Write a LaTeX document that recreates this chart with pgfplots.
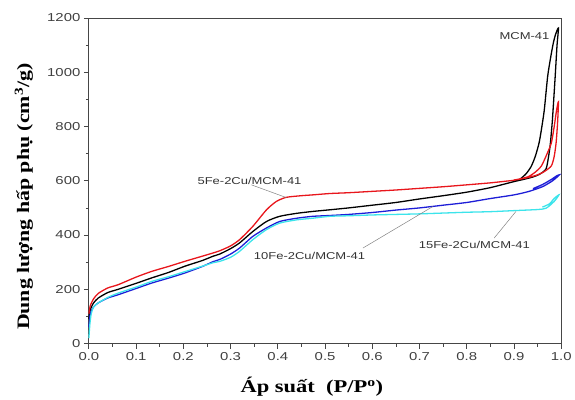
\documentclass[border=0pt]{standalone}
\usepackage{fontspec}
\setmainfont{Liberation Serif}
\setsansfont{Liberation Sans}
\newfontfamily\tickfont[FakeStretch=1.3]{Liberation Sans}
\newfontfamily\labelfont[FakeStretch=1.25]{Liberation Serif}
\usepackage{pgfplots}
\pgfplotsset{compat=1.18}

\definecolor{axisgray}{RGB}{70,70,70}
\definecolor{leadgray}{RGB}{130,130,130}
\definecolor{cred}{RGB}{232,22,28}
\definecolor{cblue}{RGB}{30,30,215}
\definecolor{ccyan}{RGB}{60,228,235}

\begin{document}
\begin{tikzpicture}
\begin{axis}[
    scale only axis, width=473pt, height=326pt,
    xmin=0, xmax=1, ymin=0, ymax=1200,
    xtick={0,0.1,0.2,0.3,0.4,0.5,0.6,0.7,0.8,0.9,1},
    xticklabels={0.0,0.1,0.2,0.3,0.4,0.5,0.6,0.7,0.8,0.9,1.0},
    ytick={0,200,400,600,800,1000,1200},
    yticklabels={0,200,400,600,800,1000,1200},
    minor x tick num=1, minor y tick num=1,
    tick align=outside, tick pos=left,
    major tick length=5pt, minor tick length=3pt,
    axis line style={draw=axisgray, line width=0.9pt},
    every tick/.style={axisgray, line width=0.8pt},
    tick label style={font=\tickfont\fontsize{11.5}{11.5}\selectfont, text=black!75},
    /pgf/number format/assume math mode=true,
    xlabel={\labelfont\bfseries\fontsize{18}{18}\selectfont Áp suất\ \ (P/P\textsuperscript{o})},
    ylabel={\labelfont\bfseries\fontsize{17.5}{17.5}\selectfont Dung lượng hấp phụ (cm\textsuperscript{3}/g)},
    xlabel style={at={(axis description cs:0.472,0)}, anchor=center, yshift=-43pt},
    ylabel style={at={(axis description cs:-0.1374,0.451)}, anchor=center},
    every axis plot/.append style={line width=1.3pt, no markers, smooth, tension=0.4},
    clip=false,
]
% MCM-41 (black): adsorption then desorption
\addplot[black] coordinates {
(0,90) (0.003,125) (0.01,150) (0.02,168) (0.04,188) (0.062,200) (0.1,222)
(0.133,242) (0.17,263) (0.203,285) (0.24,306) (0.263,322) (0.277,330) (0.3,350)
(0.319,371) (0.347,413) (0.376,450) (0.404,469) (0.44,480) (0.474,487) (0.51,493)
(0.55,500) (0.6,510) (0.65,520) (0.7,533) (0.75,545) (0.8,558) (0.848,574)
(0.88,588) (0.9,597) (0.92,605) (0.94,614) (0.955,625) (0.968,645) (0.974,700)
(0.977,740) (0.981,820) (0.984,900) (0.987,983) (0.991,1100) (0.994,1163)
(0.988,1140) (0.983,1107) (0.977,1050) (0.971,983) (0.964,861) (0.958,790)
(0.953,740) (0.945,690) (0.936,652) (0.925,625) (0.911,604) (0.9,598)
};
% 10Fe-2Cu/MCM-41 (blue)
\addplot[cblue] coordinates {
(0,60) (0.003,110) (0.01,135) (0.02,150) (0.04,168) (0.062,180) (0.1,203)
(0.133,223) (0.17,242) (0.203,260) (0.24,284) (0.263,302) (0.277,310) (0.3,330)
(0.319,352) (0.347,395) (0.376,426) (0.404,450) (0.44,462) (0.474,469) (0.51,472)
(0.55,476) (0.6,483) (0.65,492) (0.7,500) (0.75,510) (0.8,520) (0.848,534)
(0.9,548) (0.932,561) (0.96,578) (0.98,598) (0.99,612) (0.996,622)
(0.99,618) (0.98,606) (0.96,586) (0.94,571)
};
% 15Fe-2Cu/MCM-41 (cyan)
\addplot[ccyan] coordinates {
(0,20) (0.002,70) (0.005,110) (0.01,135) (0.02,150) (0.04,170) (0.062,186)
(0.1,208) (0.133,229) (0.17,247) (0.203,265) (0.24,285) (0.263,298) (0.277,303)
(0.3,318) (0.319,340) (0.347,383) (0.376,420) (0.404,444) (0.44,456) (0.474,462)
(0.51,469) (0.55,471) (0.6,474) (0.65,476) (0.7,478) (0.75,481) (0.8,484)
(0.848,486) (0.9,490) (0.95,494) (0.968,499) (0.985,524) (0.995,548)
(0.985,535) (0.975,515) (0.96,503)
};
% 5Fe-2Cu/MCM-41 (red)
\addplot[cred] coordinates {
(0,110) (0.003,140) (0.01,165) (0.02,185) (0.04,205) (0.062,217) (0.1,245)
(0.133,266) (0.17,285) (0.203,303) (0.24,322) (0.263,334) (0.277,342) (0.3,360)
(0.319,383) (0.347,432) (0.376,493) (0.397,524) (0.418,539) (0.45,545)
(0.474,548) (0.51,553) (0.55,556) (0.6,561) (0.65,566) (0.7,572) (0.75,578)
(0.8,585) (0.848,592) (0.88,598) (0.9,602) (0.93,612) (0.95,622) (0.965,635)
(0.979,655) (0.985,690) (0.989,740) (0.992,810) (0.994,891)
(0.99,860) (0.985,800) (0.979,740) (0.97,700) (0.958,655) (0.945,632)
(0.93,615) (0.91,606) (0.9,603)
};
% annotations
\draw[leadgray, line width=0.5pt] (axis cs:0.344,585) -- (axis cs:0.418,538);
\draw[leadgray, line width=0.5pt] (axis cs:0.580,352) -- (axis cs:0.728,505);
\draw[leadgray, line width=0.5pt] (axis cs:0.858,389) -- (axis cs:0.904,487);
\node[font=\tickfont\fontsize{10}{10}\selectfont, text=black!80] at (axis cs:0.922,1134) {MCM-41};
\node[font=\tickfont\fontsize{10}{10}\selectfont, text=black!80] at (axis cs:0.340,600) {5Fe-2Cu/MCM-41};
\node[font=\tickfont\fontsize{10}{10}\selectfont, text=black!80] at (axis cs:0.467,324) {10Fe-2Cu/MCM-41};
\node[font=\tickfont\fontsize{10}{10}\selectfont, text=black!80] at (axis cs:0.816,362) {15Fe-2Cu/MCM-41};
\end{axis}
\path (current axis.south west) ++(-89pt,-56pt) rectangle ([shift={(13pt,18pt)}]current axis.north east);
\end{tikzpicture}
\end{document}
